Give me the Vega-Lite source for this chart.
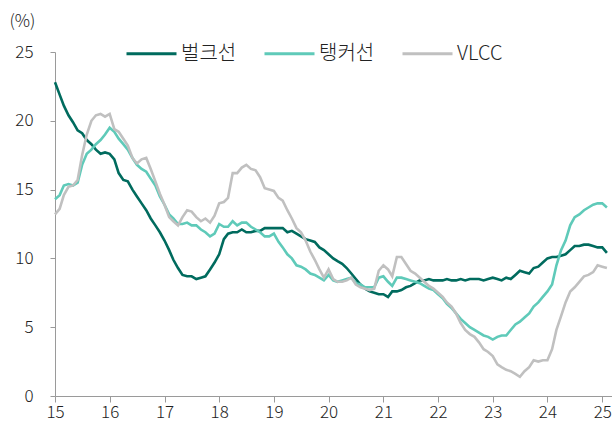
{
"$schema": "https://vega.github.io/schema/vega-lite/v6.json",
"width": 557, "height": 344,
"autosize": {"type": "none"},
"padding": {"left": 55, "top": 52, "right": 0, "bottom": 29},
"background": "white",
"config": {"view": {"stroke": null}, "font": "Noto Sans CJK KR"},
"data": {"values": [
{"d":"2015-01","벌크선":22.8,"탱커선":14.3,"VLCC":13.2},
{"d":"2015-02","벌크선":21.9,"탱커선":14.6,"VLCC":13.6},
{"d":"2015-03","벌크선":21.1,"탱커선":15.3,"VLCC":14.6},
{"d":"2015-04","벌크선":20.4,"탱커선":15.4,"VLCC":15.2},
{"d":"2015-05","벌크선":19.9,"탱커선":15.3,"VLCC":15.3},
{"d":"2015-06","벌크선":19.3,"탱커선":15.5,"VLCC":15.7},
{"d":"2015-07","벌크선":19.1,"탱커선":16.8,"VLCC":17.5},
{"d":"2015-08","벌크선":18.6,"탱커선":17.6,"VLCC":19.0},
{"d":"2015-09","벌크선":18.3,"탱커선":17.9,"VLCC":20.0},
{"d":"2015-10","벌크선":17.9,"탱커선":18.3,"VLCC":20.4},
{"d":"2015-11","벌크선":17.6,"탱커선":18.6,"VLCC":20.5},
{"d":"2015-12","벌크선":17.7,"탱커선":19.0,"VLCC":20.3},
{"d":"2016-01","벌크선":17.6,"탱커선":19.5,"VLCC":20.5},
{"d":"2016-02","벌크선":17.2,"탱커선":19.2,"VLCC":19.4},
{"d":"2016-03","벌크선":16.2,"탱커선":18.7,"VLCC":19.2},
{"d":"2016-04","벌크선":15.7,"탱커선":18.3,"VLCC":18.7},
{"d":"2016-05","벌크선":15.6,"탱커선":17.9,"VLCC":18.2},
{"d":"2016-06","벌크선":15.0,"탱커선":17.3,"VLCC":17.3},
{"d":"2016-07","벌크선":14.5,"탱커선":16.8,"VLCC":16.9},
{"d":"2016-08","벌크선":14.0,"탱커선":16.5,"VLCC":17.2},
{"d":"2016-09","벌크선":13.5,"탱커선":16.3,"VLCC":17.3},
{"d":"2016-10","벌크선":12.9,"탱커선":15.8,"VLCC":16.5},
{"d":"2016-11","벌크선":12.4,"탱커선":15.3,"VLCC":15.6},
{"d":"2016-12","벌크선":11.9,"탱커선":14.5,"VLCC":14.7},
{"d":"2017-01","벌크선":11.3,"탱커선":13.9,"VLCC":13.9},
{"d":"2017-02","벌크선":10.6,"탱커선":13.2,"VLCC":13.0},
{"d":"2017-03","벌크선":9.9,"탱커선":12.9,"VLCC":12.7},
{"d":"2017-04","벌크선":9.3,"탱커선":12.5,"VLCC":12.4},
{"d":"2017-05","벌크선":8.8,"탱커선":12.5,"VLCC":13.0},
{"d":"2017-06","벌크선":8.7,"탱커선":12.6,"VLCC":13.5},
{"d":"2017-07","벌크선":8.7,"탱커선":12.4,"VLCC":13.4},
{"d":"2017-08","벌크선":8.5,"탱커선":12.4,"VLCC":13.0},
{"d":"2017-09","벌크선":8.6,"탱커선":12.1,"VLCC":12.7},
{"d":"2017-10","벌크선":8.7,"탱커선":11.9,"VLCC":12.9},
{"d":"2017-11","벌크선":9.2,"탱커선":11.6,"VLCC":12.6},
{"d":"2017-12","벌크선":9.7,"탱커선":11.8,"VLCC":13.1},
{"d":"2018-01","벌크선":10.3,"탱커선":12.5,"VLCC":14.0},
{"d":"2018-02","벌크선":11.4,"탱커선":12.3,"VLCC":14.1},
{"d":"2018-03","벌크선":11.8,"탱커선":12.3,"VLCC":14.4},
{"d":"2018-04","벌크선":11.9,"탱커선":12.7,"VLCC":16.2},
{"d":"2018-05","벌크선":11.9,"탱커선":12.4,"VLCC":16.2},
{"d":"2018-06","벌크선":12.1,"탱커선":12.6,"VLCC":16.6},
{"d":"2018-07","벌크선":11.9,"탱커선":12.6,"VLCC":16.8},
{"d":"2018-08","벌크선":11.9,"탱커선":12.3,"VLCC":16.5},
{"d":"2018-09","벌크선":12.0,"탱커선":12.1,"VLCC":16.4},
{"d":"2018-10","벌크선":12.0,"탱커선":11.9,"VLCC":15.9},
{"d":"2018-11","벌크선":12.2,"탱커선":11.6,"VLCC":15.1},
{"d":"2018-12","벌크선":12.2,"탱커선":11.6,"VLCC":15.0},
{"d":"2019-01","벌크선":12.2,"탱커선":11.8,"VLCC":14.9},
{"d":"2019-02","벌크선":12.2,"탱커선":11.2,"VLCC":14.4},
{"d":"2019-03","벌크선":12.2,"탱커선":10.8,"VLCC":14.2},
{"d":"2019-04","벌크선":11.9,"탱커선":10.3,"VLCC":13.5},
{"d":"2019-05","벌크선":12.0,"탱커선":10.0,"VLCC":12.9},
{"d":"2019-06","벌크선":11.8,"탱커선":9.5,"VLCC":12.2},
{"d":"2019-07","벌크선":11.6,"탱커선":9.4,"VLCC":11.9},
{"d":"2019-08","벌크선":11.4,"탱커선":9.2,"VLCC":11.3},
{"d":"2019-09","벌크선":11.3,"탱커선":8.9,"VLCC":10.5},
{"d":"2019-10","벌크선":11.2,"탱커선":8.8,"VLCC":9.9},
{"d":"2019-11","벌크선":10.8,"탱커선":8.6,"VLCC":9.2},
{"d":"2019-12","벌크선":10.6,"탱커선":8.4,"VLCC":8.6},
{"d":"2020-01","벌크선":10.3,"탱커선":8.8,"VLCC":9.2},
{"d":"2020-02","벌크선":10.0,"탱커선":8.4,"VLCC":8.5},
{"d":"2020-03","벌크선":9.8,"탱커선":8.3,"VLCC":8.3},
{"d":"2020-04","벌크선":9.6,"탱커선":8.4,"VLCC":8.3},
{"d":"2020-05","벌크선":9.3,"탱커선":8.5,"VLCC":8.4},
{"d":"2020-06","벌크선":8.9,"탱커선":8.6,"VLCC":8.6},
{"d":"2020-07","벌크선":8.5,"탱커선":8.2,"VLCC":8.1},
{"d":"2020-08","벌크선":8.1,"탱커선":8.1,"VLCC":7.9},
{"d":"2020-09","벌크선":7.8,"탱커선":7.9,"VLCC":7.8},
{"d":"2020-10","벌크선":7.6,"탱커선":7.9,"VLCC":7.7},
{"d":"2020-11","벌크선":7.5,"탱커선":7.9,"VLCC":7.8},
{"d":"2020-12","벌크선":7.4,"탱커선":8.6,"VLCC":9.1},
{"d":"2021-01","벌크선":7.4,"탱커선":8.7,"VLCC":9.5},
{"d":"2021-02","벌크선":7.2,"탱커선":8.3,"VLCC":9.2},
{"d":"2021-03","벌크선":7.6,"탱커선":8.0,"VLCC":8.7},
{"d":"2021-04","벌크선":7.6,"탱커선":8.6,"VLCC":10.1},
{"d":"2021-05","벌크선":7.7,"탱커선":8.6,"VLCC":10.1},
{"d":"2021-06","벌크선":7.9,"탱커선":8.5,"VLCC":9.6},
{"d":"2021-07","벌크선":8.0,"탱커선":8.4,"VLCC":9.1},
{"d":"2021-08","벌크선":8.2,"탱커선":8.3,"VLCC":8.9},
{"d":"2021-09","벌크선":8.4,"탱커선":8.2,"VLCC":8.6},
{"d":"2021-10","벌크선":8.4,"탱커선":8.0,"VLCC":8.3},
{"d":"2021-11","벌크선":8.5,"탱커선":7.8,"VLCC":8.0},
{"d":"2021-12","벌크선":8.4,"탱커선":7.7,"VLCC":7.8},
{"d":"2022-01","벌크선":8.4,"탱커선":7.4,"VLCC":7.5},
{"d":"2022-02","벌크선":8.4,"탱커선":7.1,"VLCC":7.2},
{"d":"2022-03","벌크선":8.5,"탱커선":6.7,"VLCC":6.8},
{"d":"2022-04","벌크선":8.4,"탱커선":6.4,"VLCC":6.5},
{"d":"2022-05","벌크선":8.4,"탱커선":6.0,"VLCC":6.0},
{"d":"2022-06","벌크선":8.5,"탱커선":5.6,"VLCC":5.3},
{"d":"2022-07","벌크선":8.4,"탱커선":5.3,"VLCC":4.8},
{"d":"2022-08","벌크선":8.5,"탱커선":5.0,"VLCC":4.5},
{"d":"2022-09","벌크선":8.5,"탱커선":4.8,"VLCC":4.3},
{"d":"2022-10","벌크선":8.5,"탱커선":4.6,"VLCC":3.9},
{"d":"2022-11","벌크선":8.4,"탱커선":4.4,"VLCC":3.4},
{"d":"2022-12","벌크선":8.5,"탱커선":4.3,"VLCC":3.2},
{"d":"2023-01","벌크선":8.6,"탱커선":4.1,"VLCC":2.9},
{"d":"2023-02","벌크선":8.5,"탱커선":4.3,"VLCC":2.3},
{"d":"2023-03","벌크선":8.4,"탱커선":4.4,"VLCC":2.1},
{"d":"2023-04","벌크선":8.6,"탱커선":4.4,"VLCC":1.9},
{"d":"2023-05","벌크선":8.5,"탱커선":4.8,"VLCC":1.8},
{"d":"2023-06","벌크선":8.8,"탱커선":5.2,"VLCC":1.6},
{"d":"2023-07","벌크선":9.1,"탱커선":5.4,"VLCC":1.4},
{"d":"2023-08","벌크선":9.0,"탱커선":5.7,"VLCC":1.8},
{"d":"2023-09","벌크선":8.9,"탱커선":6.0,"VLCC":2.1},
{"d":"2023-10","벌크선":9.3,"탱커선":6.5,"VLCC":2.6},
{"d":"2023-11","벌크선":9.4,"탱커선":6.8,"VLCC":2.5},
{"d":"2023-12","벌크선":9.7,"탱커선":7.2,"VLCC":2.6},
{"d":"2024-01","벌크선":10.0,"탱커선":7.6,"VLCC":2.6},
{"d":"2024-02","벌크선":10.1,"탱커선":8.1,"VLCC":3.4},
{"d":"2024-03","벌크선":10.1,"탱커선":9.5,"VLCC":4.8},
{"d":"2024-04","벌크선":10.2,"탱커선":10.6,"VLCC":5.8},
{"d":"2024-05","벌크선":10.3,"탱커선":11.3,"VLCC":6.8},
{"d":"2024-06","벌크선":10.6,"탱커선":12.4,"VLCC":7.6},
{"d":"2024-07","벌크선":10.9,"탱커선":13.0,"VLCC":7.9},
{"d":"2024-08","벌크선":10.9,"탱커선":13.2,"VLCC":8.3},
{"d":"2024-09","벌크선":11.0,"탱커선":13.5,"VLCC":8.7},
{"d":"2024-10","벌크선":11.0,"탱커선":13.7,"VLCC":8.8},
{"d":"2024-11","벌크선":10.9,"탱커선":13.9,"VLCC":9.0},
{"d":"2024-12","벌크선":10.8,"탱커선":14.0,"VLCC":9.5},
{"d":"2025-01","벌크선":10.8,"탱커선":14.0,"VLCC":9.4},
{"d":"2025-02","벌크선":10.4,"탱커선":13.7,"VLCC":9.3}
]},
"transform": [{"fold": ["벌크선", "탱커선", "VLCC"], "as": ["series", "value"]}],
"mark": {"type": "line", "strokeWidth": 2.6, "clip": false},
"encoding": {
  "x": {"field": "d", "type": "temporal",
    "scale": {"type": "utc", "domain": [{"year": 2015, "month": 1, "date": 1, "utc": true}, {"year": 2025, "month": 3, "date": 7, "utc": true}]},
    "axis": {"format": "%y", "tickCount": {"interval": "year", "step": 1}, "grid": false, "domainColor": "#9a9a9a", "tickColor": "#9a9a9a", "tickSize": 6, "labelFontSize": 17, "labelFontWeight": 300, "labelColor": "#222222", "labelPadding": 2, "title": null, "labelFlush": false, "labelOverlap": false}},
  "y": {"field": "value", "type": "quantitative",
    "scale": {"domain": [0, 25]},
    "axis": {"values": [0, 5, 10, 15, 20, 25], "grid": false, "domainColor": "#9a9a9a", "tickColor": "#9a9a9a", "tickSize": 5, "labelFontSize": 17, "labelFontWeight": 300, "labelColor": "#222222", "labelPadding": 17, "title": "(%)", "titleAngle": 0, "titleX": -33, "titleY": -31, "titleAlign": "center", "titleBaseline": "middle", "titleFontWeight": 300, "titleFontSize": 17, "titleColor": "#222222"}},
  "color": {"field": "series", "type": "nominal",
    "scale": {"domain": ["벌크선", "탱커선", "VLCC"], "range": ["#006b5e", "#5fcab9", "#c0c0c0"]},
    "legend": {"orient": "none", "legendX": 70, "legendY": -25, "direction": "horizontal", "title": null, "symbolType": "stroke", "symbolSize": 2500, "symbolStrokeWidth": 3, "labelFontSize": 20, "labelFontWeight": 300, "labelColor": "#222222", "gridAlign": "all", "columnPadding": 21, "labelOffset": 3, "padding": 0}}
}
}
